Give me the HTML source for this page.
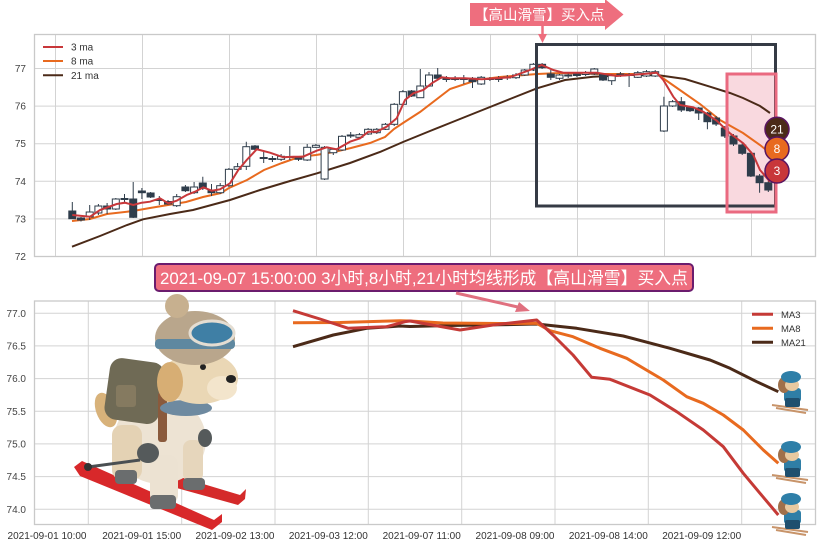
<!DOCTYPE html>
<html><head><meta charset="utf-8"><style>
html,body{margin:0;padding:0;background:#fff;}
svg{display:block;}
text{font-family:"Liberation Sans","Noto Sans CJK SC",sans-serif;}
</style></head><body>
<svg width="822" height="547" viewBox="0 0 822 547" xmlns="http://www.w3.org/2000/svg">
<rect width="822" height="547" fill="#fff"/>

<!-- ===== TOP CHART ===== -->
<g stroke="#d3d3d3" stroke-width="1">
  <line x1="55.5" y1="34" x2="55.5" y2="256"/><line x1="142.5" y1="34" x2="142.5" y2="256"/>
  <line x1="229.5" y1="34" x2="229.5" y2="256"/><line x1="316.5" y1="34" x2="316.5" y2="256"/>
  <line x1="403.5" y1="34" x2="403.5" y2="256"/><line x1="490.5" y1="34" x2="490.5" y2="256"/>
  <line x1="577.5" y1="34" x2="577.5" y2="256"/><line x1="664.5" y1="34" x2="664.5" y2="256"/>
  <line x1="751.5" y1="34" x2="751.5" y2="256"/>
  <line x1="34" y1="68.5" x2="816" y2="68.5"/><line x1="34" y1="106.1" x2="816" y2="106.1"/>
  <line x1="34" y1="143.7" x2="816" y2="143.7"/><line x1="34" y1="181.3" x2="816" y2="181.3"/>
  <line x1="34" y1="218.9" x2="816" y2="218.9"/>
</g>
<rect x="34.5" y="34.5" width="781" height="222" fill="none" stroke="#c9c9c9" stroke-width="1.3"/>
<g font-size="10" fill="#444" text-anchor="end">
  <text x="26" y="72">77</text><text x="26" y="109.6">76</text><text x="26" y="147.2">75</text>
  <text x="26" y="184.8">74</text><text x="26" y="222.4">73</text><text x="26" y="260">72</text>
</g>

<!-- pink highlight fill -->
<rect x="727" y="74" width="49" height="138" fill="#f9d9df"/>

<!-- MA lines top -->
<polyline fill="none" stroke="#4b2a18" stroke-width="2" points="72,246.7 100,236 127,225 143,219.3 170,214 193,210 230,200 260,190 290,181 317,173.3 350,163 380,152 403,142 430,131 450,123 480,111 510,99 537,88.3 565,80 593,76.7 630,75 657,75 685,79 710,86.7 730,93 743,98 760,106 770,113"/>
<polyline fill="none" stroke="#e86a1f" stroke-width="2" points="72,221 90,219 107,214 133,211 150,208 168,205 186,202 203,197 221,193 229,188 247,180 264,170 282,163 299,157 316,155 334,152 351,148 370,143 385,137 394,129 403,123 420,112 450,89 477,80 500,77 537,74 560,73 600,74 657,74 677,88 700,104 720,120 743,133 760,145 770,153"/>

<!-- candles -->
<g stroke="#2f3d4b" stroke-width="1">
<path d="M72.3 202V219M81 217V221.5M89.7 205V220M98.4 204V215M107.1 203V214M115.8 198V210M124.5 194V203M133.2 182V218M141.9 188V199M150.6 192V198M159.3 196V205M168 200V205M176.7 194V207M185.4 185V192M194.1 182V194M202.8 176.7V190M211.5 184V196M220.2 183V194M228.9 168V187M237.6 163V171M246.3 141.7V170M255 145V151M263.7 152V163M272.4 156V162M281.1 154V161M289.8 146V160M298.5 156V161M307.2 144V161M315.9 144V148M324.6 146V180M333.3 148V155M342 135V151M350.7 132V138M359.4 133V138M368.1 128V135M376.8 128V134M385.5 123V130M394.2 103V126M402.9 90V106M411.6 90V97M420.3 69V98M429 72V87M437.7 68V79M446.4 76V82M455.1 76V81M463.8 75V84M472.5 77V88M481.2 76V85M489.9 77V81M498.6 76V82M507.3 75V80M516 73V79M524.7 69V76M533.4 63V71M542.1 63V69M550.8 70V80M559.5 74V80M568.2 73V78M576.9 72V77M585.6 71V76M594.3 68V75M603 73V81M611.7 74V85M620.4 72V77M629.1 73V87M637.8 71V78M646.5 70V77M655.2 70V77M663.9 96.7V132M672.6 100V107M681.3 97V112M690 106V112M698.7 107V120M707.4 112V129.3M716.1 116V126M724.8 126V138M733.5 134V146M742.2 143V155M750.9 151V177M759.6 174V192.7M768.3 181V192"/>
</g>
<g stroke="#2f3d4b" stroke-width="1" fill="#2f3d4b">
<rect x="68.8" y="211" width="7" height="7.7"/>
<rect x="77.5" y="218" width="7" height="2"/>
<rect x="103.6" y="206" width="7" height="3"/>
<rect x="129.7" y="199" width="7" height="18.3"/>
<rect x="138.4" y="191" width="7" height="1.7"/>
<rect x="147.1" y="193" width="7" height="4"/>
<rect x="164.5" y="201.5" width="7" height="2.5"/>
<rect x="181.9" y="187" width="7" height="3.7"/>
<rect x="199.3" y="183" width="7" height="5.3"/>
<rect x="208" y="190" width="7" height="2.7"/>
<rect x="251.5" y="146" width="7" height="3.3"/>
<rect x="295" y="157.3" width="7" height="2"/>
<rect x="408.1" y="91" width="7" height="5"/>
<rect x="434.2" y="75" width="7" height="3.3"/>
<rect x="469" y="78.3" width="7" height="3.4"/>
<rect x="538.6" y="64.3" width="7" height="3.4"/>
<rect x="547.3" y="74" width="7" height="3.3"/>
<rect x="573.4" y="74" width="7" height="1.5"/>
<rect x="599.5" y="74" width="7" height="6"/>
<rect x="677.8" y="101.7" width="7" height="8.3"/>
<rect x="686.5" y="107" width="7" height="3.7"/>
<rect x="695.2" y="108" width="7" height="5"/>
<rect x="703.9" y="113" width="7" height="8.7"/>
<rect x="712.6" y="118" width="7" height="6"/>
<rect x="721.3" y="128" width="7" height="8"/>
<rect x="730" y="136" width="7" height="8"/>
<rect x="738.7" y="145" width="7" height="8.3"/>
<rect x="747.4" y="153.3" width="7" height="22.7"/>
<rect x="756.1" y="176" width="7" height="6.7"/>
<rect x="764.8" y="182.7" width="7" height="7.3"/>
<!-- crosses -->
<rect x="121" y="198.5" width="7" height="1"/>
<rect x="155.8" y="199.5" width="7" height="1"/>
<rect x="260.2" y="157.5" width="7" height="1"/>
<rect x="268.9" y="158.5" width="7" height="1"/>
<rect x="286.3" y="156.7" width="7" height="0.8"/>
<rect x="347.2" y="135" width="7" height="1"/>
<rect x="442.9" y="78.5" width="7" height="1"/>
<rect x="451.6" y="78.5" width="7" height="1"/>
<rect x="460.3" y="78.5" width="7" height="1"/>
<rect x="486.4" y="78.5" width="7" height="1"/>
<rect x="495.1" y="78.5" width="7" height="1"/>
<rect x="503.8" y="77" width="7" height="1"/>
<rect x="564.7" y="75" width="7" height="1"/>
<rect x="616.9" y="74" width="7" height="1"/>
<rect x="625.6" y="74.5" width="7" height="1"/>
</g>
<g stroke="#2f3d4b" stroke-width="1" fill="#fff">
<rect x="86.2" y="212" width="7" height="5"/>
<rect x="94.9" y="206" width="7" height="7"/>
<rect x="112.3" y="199" width="7" height="10"/>
<rect x="173.2" y="196.7" width="7" height="9"/>
<rect x="190.6" y="187" width="7" height="5.7"/>
<rect x="216.7" y="185.7" width="7" height="7"/>
<rect x="225.4" y="169.3" width="7" height="16.4"/>
<rect x="234.1" y="166.7" width="7" height="2.6"/>
<rect x="242.8" y="146.7" width="7" height="19.6"/>
<rect x="277.6" y="156.3" width="7" height="3"/>
<rect x="303.7" y="147.3" width="7" height="12.7"/>
<rect x="312.4" y="145.3" width="7" height="2"/>
<rect x="321.1" y="147.3" width="7" height="31.7"/>
<rect x="329.8" y="149.3" width="7" height="3.4"/>
<rect x="338.5" y="136.3" width="7" height="13.7"/>
<rect x="355.9" y="134.7" width="7" height="2.6"/>
<rect x="364.6" y="129.3" width="7" height="4.7"/>
<rect x="373.3" y="129.3" width="7" height="3.4"/>
<rect x="382" y="124.3" width="7" height="5"/>
<rect x="390.7" y="104.3" width="7" height="20"/>
<rect x="399.4" y="91.7" width="7" height="12.6"/>
<rect x="416.8" y="86" width="7" height="11.7"/>
<rect x="425.5" y="75" width="7" height="11"/>
<rect x="477.7" y="77.3" width="7" height="6.7"/>
<rect x="512.5" y="75" width="7" height="2.7"/>
<rect x="521.2" y="70" width="7" height="5"/>
<rect x="529.9" y="64.3" width="7" height="5.7"/>
<rect x="556" y="75" width="7" height="3.3"/>
<rect x="582.1" y="72.5" width="7" height="2"/>
<rect x="590.8" y="69" width="7" height="5"/>
<rect x="608.2" y="75.7" width="7" height="5"/>
<rect x="634.3" y="72.7" width="7" height="4.6"/>
<rect x="643" y="71.7" width="7" height="4.3"/>
<rect x="651.7" y="71.7" width="7" height="4.3"/>
<rect x="660.4" y="106" width="7" height="25"/>
<rect x="669.1" y="101.7" width="7" height="4.3"/>
</g>

<polyline fill="none" stroke="#c8373a" stroke-width="2" points="72.3,215 90,216.7 100,210 116.7,204 125,202.7 133.3,205 141.7,202.7 150,201.7 160,198.3 168.3,203.3 176.7,200.7 186.7,195 195,191.7 203.3,187.3 211.7,190.7 220,189.3 230,183.3 238.3,170 246.7,160 256.7,149.3 270,152.7 283.3,157.3 293.3,156.7 303,156.7 316.7,150.7 326.7,147.3 336.7,149.3 350,141.7 360,138.3 368.3,131.7 376.7,131.7 386.7,126.7 396.7,118.3 405,100 413.3,93.3 423.3,90 431.7,83.3 441.7,77.3 450,78.3 465,78.3 481.7,79.3 510,77.3 530,70 541.7,65 553.3,70 563.3,72.7 596.7,72.7 616.7,76 643.3,74 656.7,72.7 663.3,80 673.3,96.7 680,105 693.3,107.3 703.3,111.7 716.7,120.7 730,133.3 743.3,143.3 753.3,155 760,170 770,181.7"/>

<!-- legend top -->
<g stroke-width="2">
  <line x1="43" y1="47" x2="63" y2="47" stroke="#c8373a"/>
  <line x1="43" y1="61" x2="63" y2="61" stroke="#e86a1f"/>
  <line x1="43" y1="75.3" x2="63" y2="75.3" stroke="#4b2a18"/>
</g>
<g font-size="10" fill="#333">
  <text x="71" y="50.5">3 ma</text><text x="71" y="64.5">8 ma</text><text x="71" y="78.8">21 ma</text>
</g>

<!-- boxes -->
<rect x="536.5" y="44.5" width="239" height="161.5" fill="none" stroke="#353b45" stroke-width="3"/>
<rect x="727" y="74" width="49" height="138" fill="none" stroke="#ea6a80" stroke-width="3"/>

<!-- circles -->
<g stroke="#5a1560" stroke-width="1.5">
  <circle cx="777" cy="129.3" r="12" fill="#4b2a18"/>
  <circle cx="777" cy="149" r="12" fill="#e86a1f"/>
  <circle cx="777" cy="171" r="12" fill="#c8373a"/>
</g>
<g font-size="12" fill="#fff" text-anchor="middle">
  <text x="777" y="133.5">21</text><text x="777" y="153.2">8</text><text x="777" y="175.2">3</text>
</g>

<!-- top banner -->
<polygon points="470,3 605,3 605,-1 623.5,14.5 605,30 605,26 470,26" fill="#ee6e7e"/>
<text x="474" y="20" font-size="14.5" fill="#fff">【高山滑雪】买入点</text>
<line x1="542.5" y1="26" x2="542.5" y2="36" stroke="#ee6e7e" stroke-width="2.5"/>
<polygon points="538,34 547,34 542.5,43" fill="#ee6e7e"/>

<!-- ===== BOTTOM CHART ===== -->
<g stroke="#d3d3d3" stroke-width="1">
  <line x1="88.3" y1="301" x2="88.3" y2="524"/><line x1="181.7" y1="301" x2="181.7" y2="524"/>
  <line x1="275" y1="301" x2="275" y2="524"/><line x1="368.3" y1="301" x2="368.3" y2="524"/>
  <line x1="461.7" y1="301" x2="461.7" y2="524"/><line x1="555" y1="301" x2="555" y2="524"/>
  <line x1="648.3" y1="301" x2="648.3" y2="524"/><line x1="741.7" y1="301" x2="741.7" y2="524"/>
  <line x1="34" y1="313.3" x2="816" y2="313.3"/><line x1="34" y1="345.9" x2="816" y2="345.9"/>
  <line x1="34" y1="378.6" x2="816" y2="378.6"/><line x1="34" y1="411.3" x2="816" y2="411.3"/>
  <line x1="34" y1="443.9" x2="816" y2="443.9"/><line x1="34" y1="476.6" x2="816" y2="476.6"/>
  <line x1="34" y1="509.3" x2="816" y2="509.3"/>
</g>
<rect x="34.5" y="301" width="781" height="223.5" fill="none" stroke="#c9c9c9" stroke-width="1.3"/>
<g font-size="10" fill="#444" text-anchor="end">
  <text x="26" y="316.8">77.0</text><text x="26" y="349.4">76.5</text><text x="26" y="382.1">76.0</text>
  <text x="26" y="414.8">75.5</text><text x="26" y="447.4">75.0</text><text x="26" y="480.1">74.5</text>
  <text x="26" y="512.8">74.0</text>
</g>
<g font-size="10" fill="#333" text-anchor="middle">
  <text x="47" y="539">2021-09-01 10:00</text>
  <text x="141.7" y="539">2021-09-01 15:00</text>
  <text x="235" y="539">2021-09-02 13:00</text>
  <text x="328.3" y="539">2021-09-03 12:00</text>
  <text x="421.7" y="539">2021-09-07 11:00</text>
  <text x="515" y="539">2021-09-08 09:00</text>
  <text x="608.3" y="539">2021-09-08 14:00</text>
  <text x="701.7" y="539">2021-09-09 12:00</text>
</g>

<polyline fill="none" stroke="#4b2a18" stroke-width="3" stroke-linejoin="round" points="293,346.7 333.3,335 366.7,328.3 400,326 410,326.5 450,325.5 500,324.8 536.7,324 576.7,328.3 623.3,336 670,348.3 710,360 730,368.3 756.7,381.7 778.3,391.7"/>
<polyline fill="none" stroke="#e86a1f" stroke-width="3" stroke-linejoin="round" points="293,322.7 340,322.5 400,320.7 410,321 443,323 500,323.5 536.7,323.3 550,330.7 573,336.7 600,348.3 626.7,358.3 663.3,380 686.7,396.7 703.3,403.3 723.3,415 743.3,430 763.3,450 778.3,463.3"/>
<polyline fill="none" stroke="#c53a36" stroke-width="3" stroke-linejoin="round" points="293,310.7 320,319 348.3,328.3 386.7,326.7 405,321.7 410,321 460,330 493,325 536.7,320 553,335 573,355 591.7,377.3 610,379.3 650,395 676.7,411.7 703.3,430 723.3,446.7 743.3,473.3 760,493.3 778.3,515"/>

<!-- legend bottom -->
<g stroke-width="3">
  <line x1="752" y1="314.3" x2="773" y2="314.3" stroke="#c53a36"/>
  <line x1="752" y1="328.3" x2="773" y2="328.3" stroke="#e86a1f"/>
  <line x1="752" y1="342.3" x2="773" y2="342.3" stroke="#4b2a18"/>
</g>
<g font-size="9.5" fill="#333">
  <text x="781" y="317.8">MA3</text><text x="781" y="331.8">MA8</text><text x="781" y="345.8">MA21</text>
</g>

<!-- bottom banner -->
<rect x="155" y="264" width="538" height="27" rx="4" fill="#ee6e7e" stroke="#6b1c6e" stroke-width="2"/>
<text x="160" y="284" font-size="17" fill="#fff" textLength="528" lengthAdjust="spacingAndGlyphs">2021-09-07 15:00:00 3小时,8小时,21小时均线形成【高山滑雪】买入点</text>
<line x1="456" y1="293" x2="520" y2="307.5" stroke="#e0707f" stroke-width="3"/>
<polygon points="530,311 515,312 519,302" fill="#e0707f"/>

<!-- dog -->
<g>
  <polygon points="74,467 82,461 214,520 222,514 222,522 212,530 80,476" fill="#d8282a"/>
  <polygon points="124,468 130,462 240,495 246,489 245,499 238,505 126,474" fill="#d42a2a"/>
  <ellipse cx="106" cy="410" rx="10" ry="18" transform="rotate(-20 106 410)" fill="#d8b27a"/>
  <ellipse cx="160" cy="440" rx="46" ry="44" fill="#ede3d3"/>
  <rect x="112" y="425" width="30" height="55" rx="10" fill="#e4d2b4"/>
  <rect x="150" y="455" width="28" height="50" rx="10" fill="#ece2d2"/>
  <rect x="183" y="440" width="20" height="42" rx="8" fill="#e6d6bc"/>
  <rect x="115" y="470" width="22" height="14" rx="4" fill="#6a6d6e"/>
  <rect x="150" y="495" width="26" height="14" rx="4" fill="#6a6d6e"/>
  <rect x="183" y="478" width="22" height="12" rx="4" fill="#6a6d6e"/>
  <rect x="107" y="360" width="55" height="62" rx="12" transform="rotate(8 134 391)" fill="#6f6a55"/>
  <rect x="116" y="385" width="20" height="22" rx="3" fill="#857a60"/>
  <rect x="158" y="392" width="9" height="50" rx="3" fill="#8a5a3c"/>
  <ellipse cx="186" cy="408" rx="26" ry="8" fill="#6e8aa0"/>
  <ellipse cx="200" cy="378" rx="38" ry="26" fill="#ead7b5"/>
  <ellipse cx="222" cy="388" rx="15" ry="12" fill="#f3e5cc"/>
  <ellipse cx="170" cy="382" rx="13" ry="20" fill="#d7ae74"/>
  <circle cx="203" cy="367" r="3" fill="#222"/>
  <ellipse cx="231" cy="379" rx="5" ry="4" fill="#222"/>
  <ellipse cx="195" cy="338" rx="40" ry="27" fill="#b9a68c"/>
  <rect x="155" y="339" width="80" height="10" rx="4" fill="#5f88a0"/>
  <circle cx="177" cy="306" r="12" fill="#c7b08f"/>
  <ellipse cx="212" cy="333" rx="22" ry="12" fill="#3f7fa5" stroke="#e4ddd2" stroke-width="3"/>
  <line x1="88" y1="467" x2="140" y2="460" stroke="#4a4f52" stroke-width="3"/>
  <circle cx="88" cy="467" r="4" fill="#333"/>
  <ellipse cx="148" cy="453" rx="11" ry="10" fill="#555a5b"/>
  <ellipse cx="205" cy="438" rx="7" ry="9" fill="#555a5b"/>
</g>

<!-- skier icons -->
<defs>
  <g id="sk">
    <line x1="0" y1="35" x2="36" y2="40" stroke="#c8946a" stroke-width="2"/>
    <line x1="4" y1="38" x2="34" y2="43" stroke="#c8946a" stroke-width="2"/>
    <rect x="12" y="18" width="17" height="14" rx="3" fill="#2f7ea6"/>
    <rect x="13" y="28" width="15" height="9" rx="2" fill="#1f4f6e"/>
    <ellipse cx="12" cy="15" rx="6" ry="8" fill="#a0704a"/>
    <ellipse cx="20" cy="15" rx="7" ry="6" fill="#e8c9a0"/>
    <ellipse cx="19" cy="7" rx="10" ry="6" fill="#2e7fa8"/>
  </g>
</defs>
<use href="#sk" x="772" y="370"/>
<use href="#sk" x="772" y="440"/>
<use href="#sk" x="772" y="492"/>
</svg>
</body></html>
